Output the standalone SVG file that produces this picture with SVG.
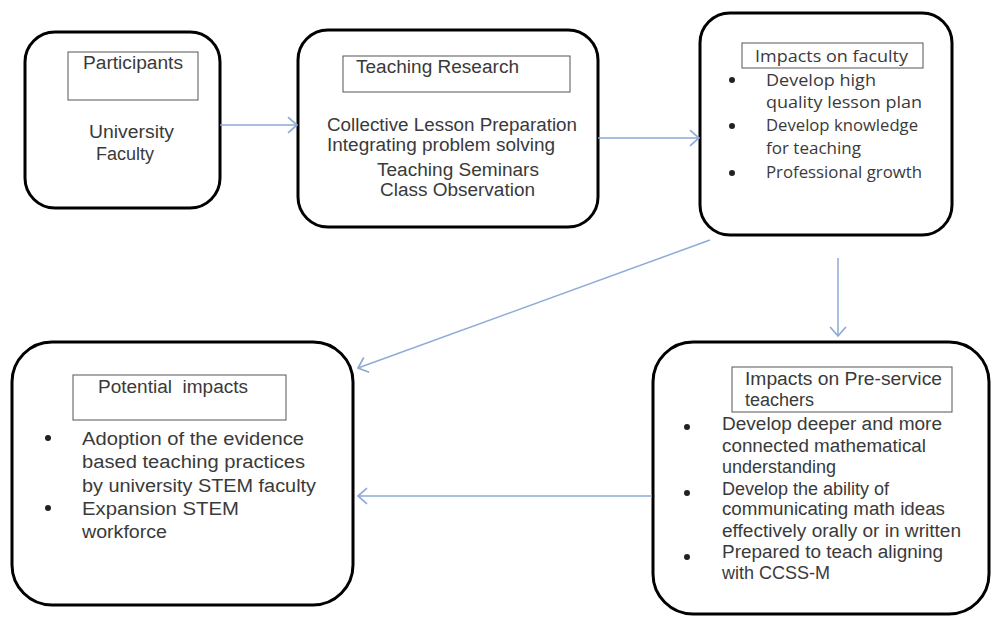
<svg xmlns="http://www.w3.org/2000/svg" width="994" height="619" viewBox="0 0 994 619">
<defs>
<marker id="arr" markerUnits="userSpaceOnUse" markerWidth="14" markerHeight="18" viewBox="-10 -8 12 16" refX="0" refY="0" orient="auto">
<polyline points="-8,-7 0,0 -8,7" fill="none" stroke="#8eaad6" stroke-width="1.5"/>
</marker>
<style>
.box{fill:#fff;stroke:#000;stroke-width:3}
.hdr{fill:#fff;stroke:#555;stroke-width:1}
.t{font-family:"Liberation Sans",Arial,sans-serif;font-size:18px;fill:#3a3a3a}
.c{font-family:"Open Sans","Noto Sans",sans-serif;font-size:17px;fill:#3a3a3a}
.b{fill:#222}
.con line{stroke:#8eaad6;stroke-width:1.5;marker-end:url(#arr)}
</style>
</defs>
<rect width="994" height="619" fill="#fff"/>
<g id="participants">
<rect class="box" x="25" y="32" width="195" height="176" rx="30"/>
<rect class="hdr" x="68" y="52" width="130" height="48"/>
<text class="t" x="83" y="69" textLength="100" lengthAdjust="spacingAndGlyphs">Participants</text>
<text class="t" x="89" y="138" textLength="85" lengthAdjust="spacingAndGlyphs">University</text>
<text class="t" x="96" y="160">Faculty</text>
</g>
<g id="teaching-research">
<rect class="box" x="298" y="30" width="300" height="197" rx="30"/>
<rect class="hdr" x="343" y="56" width="227" height="36"/>
<text class="t" x="356" y="73" textLength="163" lengthAdjust="spacingAndGlyphs">Teaching Research</text>
<text class="t" x="327" y="131" textLength="250" lengthAdjust="spacingAndGlyphs">Collective Lesson Preparation</text>
<text class="t" x="327" y="151" textLength="228" lengthAdjust="spacingAndGlyphs">Integrating problem solving</text>
<text class="t" x="377" y="176" textLength="162" lengthAdjust="spacingAndGlyphs">Teaching Seminars</text>
<text class="t" x="380" y="196" textLength="155" lengthAdjust="spacingAndGlyphs">Class Observation</text>
</g>
<g id="impacts-faculty">
<rect class="box" x="700" y="13" width="252" height="222" rx="30"/>
<rect class="hdr" x="742" y="43" width="181" height="25"/>
<text class="c" x="755" y="62" textLength="153" lengthAdjust="spacingAndGlyphs">Impacts on faculty</text>
<circle class="b" cx="732" cy="80" r="3"/>
<circle class="b" cx="732" cy="126" r="3"/>
<circle class="b" cx="732" cy="173" r="3"/>
<text class="c" x="766" y="86" textLength="110" lengthAdjust="spacingAndGlyphs">Develop high</text>
<text class="c" x="766" y="108" textLength="156" lengthAdjust="spacingAndGlyphs">quality lesson plan</text>
<text class="c" x="766" y="131" textLength="152" lengthAdjust="spacingAndGlyphs">Develop knowledge</text>
<text class="c" x="766" y="154" textLength="95" lengthAdjust="spacingAndGlyphs">for teaching</text>
<text class="c" x="766" y="178" textLength="156" lengthAdjust="spacingAndGlyphs">Professional growth</text>
</g>
<g id="potential-impacts">
<rect class="box" x="12" y="342" width="341" height="263" rx="40"/>
<rect class="hdr" x="73" y="375" width="213" height="45"/>
<text class="t" x="98" y="393" textLength="150" lengthAdjust="spacingAndGlyphs" xml:space="preserve">Potential  impacts</text>
<circle class="b" cx="48" cy="438" r="3"/>
<circle class="b" cx="48" cy="508" r="3"/>
<text class="t" x="82" y="445" textLength="222" lengthAdjust="spacingAndGlyphs">Adoption of the evidence</text>
<text class="t" x="82" y="468" textLength="223" lengthAdjust="spacingAndGlyphs">based teaching practices</text>
<text class="t" x="82" y="492" textLength="234" lengthAdjust="spacingAndGlyphs">by university STEM faculty</text>
<text class="t" x="82" y="515" textLength="157" lengthAdjust="spacingAndGlyphs">Expansion STEM</text>
<text class="t" x="82" y="538" textLength="85" lengthAdjust="spacingAndGlyphs">workforce</text>
</g>
<g id="impacts-preservice">
<rect class="box" x="653" y="342" width="336" height="272" rx="40"/>
<rect class="hdr" x="732" y="367" width="220" height="45"/>
<text class="t" x="745" y="385" textLength="197" lengthAdjust="spacingAndGlyphs">Impacts on Pre-service</text>
<text class="t" x="745" y="406">teachers</text>
<circle class="b" cx="687" cy="427" r="3"/>
<circle class="b" cx="687" cy="493" r="3"/>
<circle class="b" cx="687" cy="557" r="3"/>
<text class="t" x="722" y="430" textLength="220" lengthAdjust="spacingAndGlyphs">Develop deeper and more</text>
<text class="t" x="722" y="452" textLength="204" lengthAdjust="spacingAndGlyphs">connected mathematical</text>
<text class="t" x="722" y="473">understanding</text>
<text class="t" x="722" y="495">Develop the ability of</text>
<text class="t" x="722" y="515" textLength="223" lengthAdjust="spacingAndGlyphs">communicating math ideas</text>
<text class="t" x="722" y="537" textLength="239" lengthAdjust="spacingAndGlyphs">effectively orally or in written</text>
<text class="t" x="722" y="558" textLength="221" lengthAdjust="spacingAndGlyphs">Prepared to teach aligning</text>
<text class="t" x="722" y="579">with CCSS-M</text>
</g>
<g id="connectors" class="con">
<line x1="220" y1="125" x2="297" y2="125"/>
<line x1="598" y1="138" x2="699" y2="138"/>
<line x1="710" y1="240" x2="358" y2="368"/>
<line x1="838" y1="258" x2="838" y2="336"/>
<line x1="652" y1="496" x2="358" y2="496"/>
</g>
</svg>
